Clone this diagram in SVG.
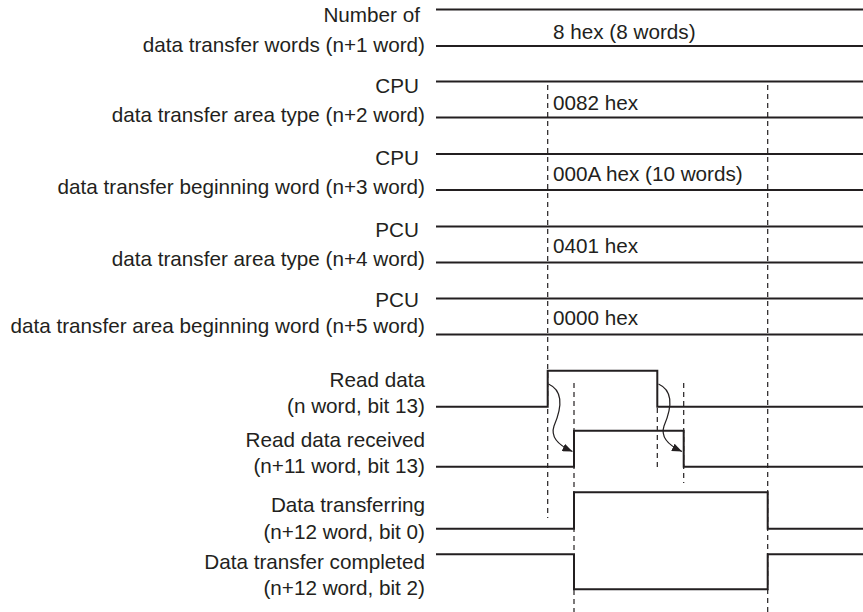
<svg xmlns="http://www.w3.org/2000/svg" width="863" height="612" viewBox="0 0 863 612">
  <defs>
    <style>
      .lbl { font-family: "Liberation Sans", Arial, sans-serif; font-size: 20.7px; fill: #231f20; text-anchor: end; }
      .val { font-family: "Liberation Sans", Arial, sans-serif; font-size: 20.7px; fill: #231f20; }
      .sig { fill: none; stroke: #231f20; stroke-width: 2; }
      .dash { fill: none; stroke: #231f20; stroke-width: 1.2; stroke-dasharray: 5 4; }
      .arr { fill: none; stroke: #231f20; stroke-width: 1.2; marker-end: url(#ah); }
    </style>
    <marker id="ah" viewBox="0 0 10 8" refX="10" refY="4" markerWidth="10" markerHeight="8" markerUnits="userSpaceOnUse" orient="auto">
      <path d="M0,0 L10,4 L0,8 Z" fill="#231f20"/>
    </marker>
  </defs>
  <rect width="863" height="612" fill="#ffffff"/>

  <g id="timing-guides">
    <line class="dash" x1="547.7" y1="85" x2="547.7" y2="518"/>
    <line class="dash" x1="767.7" y1="85" x2="767.7" y2="612"/>
    <line class="dash" x1="574" y1="383" x2="574" y2="612"/>
    <line class="dash" x1="657.3" y1="408" x2="657.3" y2="467"/>
    <line class="dash" x1="683.7" y1="383" x2="683.7" y2="483"/>
  </g>

  <g id="n1-words">
    <text class="lbl" x="420" y="22">Number of</text>
    <text class="lbl" x="425" y="52">data transfer words (n+1 word)</text>
    <line class="sig" x1="436" y1="9.5" x2="863" y2="9.5"/>
    <line class="sig" x1="436" y1="46" x2="863" y2="46"/>
    <text class="val" x="553" y="39">8 hex (8 words)</text>
  </g>

  <g id="n2-cpu-type">
    <text class="lbl" x="419" y="93">CPU</text>
    <text class="lbl" x="425" y="122">data transfer area type (n+2 word)</text>
    <line class="sig" x1="436" y1="81.5" x2="863" y2="81.5"/>
    <line class="sig" x1="436" y1="117.5" x2="863" y2="117.5"/>
    <text class="val" x="553" y="110">0082 hex</text>
  </g>

  <g id="n3-cpu-begin">
    <text class="lbl" x="419" y="165">CPU</text>
    <text class="lbl" x="425" y="194">data transfer beginning word (n+3 word)</text>
    <line class="sig" x1="436" y1="154" x2="863" y2="154"/>
    <line class="sig" x1="436" y1="190" x2="863" y2="190"/>
    <text class="val" x="553" y="181">000A hex (10 words)</text>
  </g>

  <g id="n4-pcu-type">
    <text class="lbl" x="419" y="237">PCU</text>
    <text class="lbl" x="425" y="266">data transfer area type (n+4 word)</text>
    <line class="sig" x1="436" y1="226.5" x2="863" y2="226.5"/>
    <line class="sig" x1="436" y1="262.5" x2="863" y2="262.5"/>
    <text class="val" x="553" y="253">0401 hex</text>
  </g>

  <g id="n5-pcu-begin">
    <text class="lbl" x="419" y="307">PCU</text>
    <text class="lbl" x="425" y="333">data transfer area beginning word (n+5 word)</text>
    <line class="sig" x1="436" y1="298.5" x2="863" y2="298.5"/>
    <line class="sig" x1="436" y1="334.5" x2="863" y2="334.5"/>
    <text class="val" x="553" y="325">0000 hex</text>
  </g>

  <g id="read-data">
    <text class="lbl" x="425" y="387">Read data</text>
    <text class="lbl" x="425" y="413">(n word, bit 13)</text>
    <path class="sig" d="M436,406.7 H547.7 V370.7 H657.3 V406.7 H863"/>
  </g>

  <g id="read-data-received">
    <text class="lbl" x="425" y="447">Read data received</text>
    <text class="lbl" x="425" y="473">(n+11 word, bit 13)</text>
    <path class="sig" d="M436,466.7 H574 V430.7 H683.7 V466.7 H863"/>
  </g>

  <g id="data-transferring">
    <text class="lbl" x="425" y="512">Data transferring</text>
    <text class="lbl" x="425" y="539">(n+12 word, bit 0)</text>
    <path class="sig" d="M436,528.7 H574 V492.3 H767.7 V528.7 H863"/>
  </g>

  <g id="data-transfer-completed">
    <text class="lbl" x="425" y="569">Data transfer completed</text>
    <text class="lbl" x="425" y="595">(n+12 word, bit 2)</text>
    <path class="sig" d="M436,554.3 H574 V589.3 H767.7 V554.3 H863"/>
  </g>

  <g id="connectors">
    <path class="arr" d="M548.5,384 C566,392 560,412 554,426 C550,438 560,446 572.5,451.5"/>
    <path class="arr" d="M658.5,384 C676,392 670,412 664,426 C660,438 670,446 682,451.5"/>
  </g>
</svg>
